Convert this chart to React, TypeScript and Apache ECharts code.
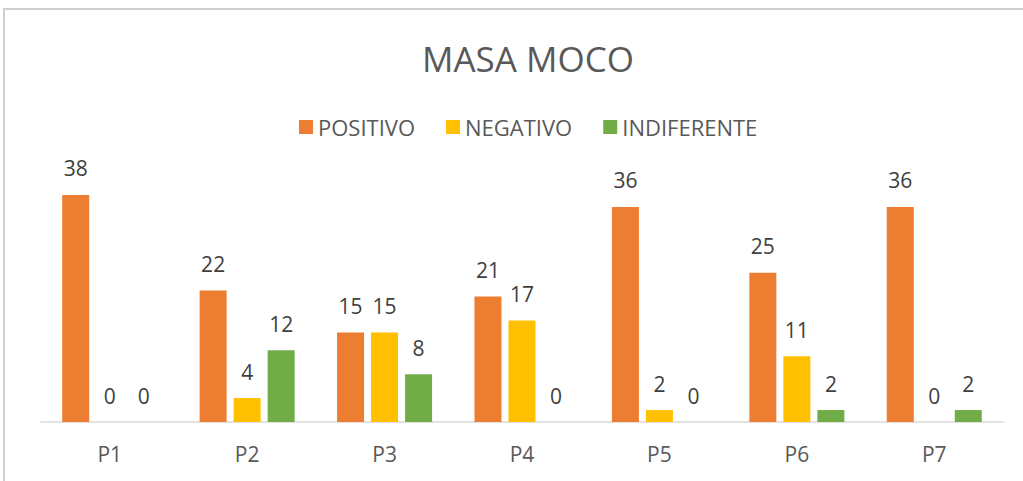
import React, { useEffect, useRef } from "react";
import * as echarts from "echarts";

const categories = ["P1", "P2", "P3", "P4", "P5", "P6", "P7"];
const positivo = [38, 22, 15, 21, 36, 25, 36];
const negativo = [0, 4, 15, 17, 2, 11, 0];
const indiferente = [0, 12, 8, 0, 0, 2, 2];
const seriesNames = ["POSITIVO", "NEGATIVO", "INDIFERENTE"];
const colors = ["#ED7D31", "#FFC000", "#70AD47"];

const FONT = "'Open Sans', 'Noto Sans', sans-serif";

export default function App() {
  const ref = useRef<HTMLDivElement>(null);
  useEffect(() => {
    document.body.style.margin = "0";
    const chart = echarts.init(ref.current!, null, { renderer: "svg" });
    const data = [positivo, negativo, indiferente];
    chart.setOption({
      animation: false,
      backgroundColor: "#ffffff",
      title: {
        text: "MASA MOCO",
        left: 417,
        top: 36,
        textStyle: { fontFamily: FONT, fontSize: 35, fontWeight: "normal", color: "#595959" },
      },
      legend: {
        top: 111,
        left: 294,
        itemWidth: 14,
        itemHeight: 14,
        itemGap: 31,
        icon: "rect",
        textStyle: { fontFamily: FONT, fontSize: 22, color: "#595959" },
        data: seriesNames,
      },
      graphic: [
        {
          type: "rect",
          shape: { x: 4, y: 9, width: 1030, height: 480 },
          style: { fill: "none", stroke: "#d0d0d0", lineWidth: 2 },
          silent: true,
        },
      ],
      grid: { left: 41, right: 20, top: 183, bottom: 59 },
      xAxis: {
        type: "category",
        data: categories,
        axisLine: { lineStyle: { color: "#d9d9d9", width: 1.5 } },
        axisTick: { show: false },
        axisLabel: { fontFamily: FONT, fontSize: 21, color: "#595959", margin: 21 },
      },
      yAxis: {
        type: "value",
        min: 0,
        max: 40,
        show: false,
        splitLine: { show: false },
      },
      series: seriesNames.map((name, i) => ({
        name,
        type: "bar",
        data: data[i],
        barWidth: 27,
        barGap: "26%",
        itemStyle: { color: colors[i] },
        label: {
          show: true,
          position: "top",
          distance: 16,
          fontFamily: FONT,
          fontSize: 21,
          color: "#404040",
        },
      })),
    });
    return () => chart.dispose();
  }, []);
  return <div ref={ref} style={{ position: "absolute", left: 0, top: 0, width: 1023, height: 481 }} />;
}
